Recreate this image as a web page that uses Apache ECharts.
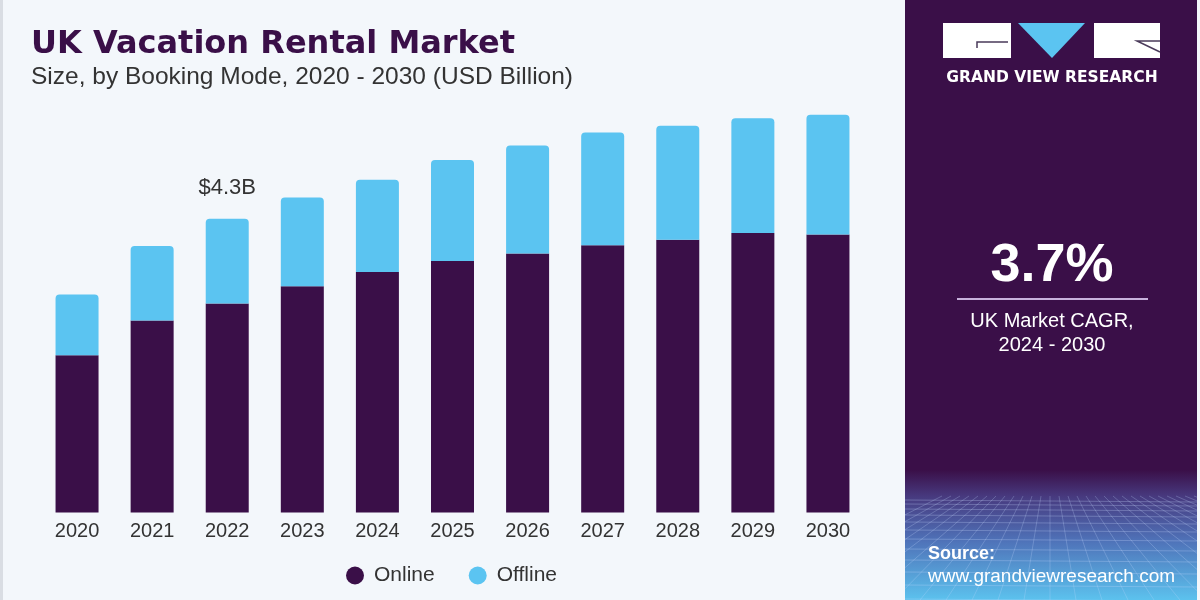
<!DOCTYPE html>
<html>
<head>
<meta charset="utf-8">
<script src="https://cdn.jsdelivr.net/npm/echarts@6/dist/echarts.min.js"></script>
<style>
  html, body { margin: 0; padding: 0; background: #f3f7fb; }
  #container { width: 1200px; height: 600px; }
</style>
</head>
<body>
<div id="container"></div>
<script>
var years = ['2020', '2021', '2022', '2023', '2024', '2025', '2026', '2027', '2028', '2029', '2030'];
var online = [2.30, 2.81, 3.06, 3.31, 3.52, 3.68, 3.79, 3.91, 3.99, 4.09, 4.07];
var offline = [0.89, 1.09, 1.24, 1.30, 1.35, 1.48, 1.58, 1.65, 1.67, 1.68, 1.75];
var labelYear = '2022';

var container = document.getElementById('container');
var chart = echarts.init(container);

var purple = '#3a0f48';
var blue = '#5bc4f1';

/*
 * offline bars carry the total label for the marked year
 */
var offlineData = offline.map(function (v, i) {
    var item = { value: v };
    if (years[i] === labelYear) {
        var total = (online[i] + v).toFixed(1);
        item.label = {
            show: true,
            position: 'top',
            distance: 20,
            formatter: '$' + total + 'B',
            fontSize: 22,
            color: '#333',
            fontFamily: 'Liberation Sans'
        };
    }
    return item;
});

// perspective grid in the panel footer
function panelGrid() {
    var g = [];
    var x0 = 905, x1 = 1197, yTop = 496, yBot = 600;
    var hy = [500, 504, 509, 515, 522, 530, 539, 549, 560, 572, 585, 599];
    hy.forEach(function (y) {
        g.push({ type: 'line', silent: true,
            shape: { x1: x0, y1: y, x2: x1, y2: y + 2 },
            style: { stroke: 'rgba(200,220,255,0.28)', lineWidth: 1 } });
    });
    for (var k = -12; k <= 20; k++) {
        var xt = 1050 + k * 9;
        var xb = 1050 + k * 26;
        var ya = yTop, yb = yBot, xa = xt, xe = xb;
        // clip to the panel edges
        if (xe < x0) { yb = yTop + (x0 - xt) / (xb - xt) * (yBot - yTop); xe = x0; }
        if (xe > x1) { yb = yTop + (x1 - xt) / (xb - xt) * (yBot - yTop); xe = x1; }
        if (xa < x0 || xa > x1) continue;
        g.push({ type: 'line', silent: true,
            shape: { x1: xa, y1: ya, x2: xe, y2: yb },
            style: { stroke: 'rgba(200,220,255,0.25)', lineWidth: 1 } });
    }
    return g;
}

var option = {
    backgroundColor: '#f3f7fb',
    animation: false,
    textStyle: { fontFamily: 'Liberation Sans' },
    grid: { left: 39.5, right: 334.5, top: 102.5, bottom: 87.5 },
    xAxis: {
        type: 'category',
        data: years,
        axisLine: { show: false },
        axisTick: { show: false },
        axisLabel: { fontSize: 20, color: '#333', margin: 9 }
    },
    yAxis: {
        type: 'value',
        min: 0,
        max: 6,
        show: false,
        splitLine: { show: false }
    },
    legend: {
        left: 346,
        top: 565,
        padding: 0,
        icon: 'circle',
        itemWidth: 18,
        itemHeight: 18,
        itemGap: 34,
        textStyle: { fontSize: 21, color: '#333', padding: [0, 0, 0, 5] },
        data: ['Online', 'Offline']
    },
    series: [
        {
            name: 'Online',
            type: 'bar',
            stack: 'total',
            barWidth: 43,
            itemStyle: { color: purple },
            data: online
        },
        {
            name: 'Offline',
            type: 'bar',
            stack: 'total',
            barWidth: 43,
            itemStyle: { color: blue, borderRadius: [4, 4, 0, 0] },
            data: offlineData
        }
    ],
    graphic: [
        { type: 'rect', silent: true, shape: { x: 0, y: 0, width: 3, height: 600 }, style: { fill: '#d9dde3' } },
        { type: 'text', x: 31, y: 45, style: { text: 'UK Vacation Rental Market', fill: purple, font: 'bold 32px DejaVu Sans', textVerticalAlign: 'middle' } },
        { type: 'text', x: 31, y: 77, style: { text: 'Size, by Booking Mode, 2020 - 2030 (USD Billion)', fill: '#333', font: '24.5px Liberation Sans', textVerticalAlign: 'middle' } },

        // right panel
        { type: 'rect', silent: true, shape: { x: 905, y: 0, width: 292, height: 600 }, style: { fill: purple } },
        { type: 'rect', silent: true, shape: { x: 905, y: 470, width: 292, height: 130 },
          style: { fill: new echarts.graphic.LinearGradient(0, 0, 0, 1, [
              { offset: 0, color: 'rgba(58,15,72,1)' },
              { offset: 0.2, color: '#47397e' },
              { offset: 0.55, color: '#4f73b9' },
              { offset: 1, color: '#5cc2ee' }
          ]) } },
        { type: 'group', children: panelGrid() },

        // logo
        { type: 'rect', silent: true, shape: { x: 943, y: 23, width: 68, height: 35 }, style: { fill: '#ffffff' } },
        { type: 'polyline', silent: true, shape: { points: [[1008, 42], [977, 42], [977, 48]] }, style: { stroke: '#4a3a5a', lineWidth: 1.5, fill: null } },
        { type: 'polygon', silent: true, shape: { points: [[1018, 23], [1085, 23], [1052, 58]] }, style: { fill: blue } },
        { type: 'rect', silent: true, shape: { x: 1094, y: 23, width: 66, height: 35 }, style: { fill: '#ffffff' } },
        { type: 'polyline', silent: true, shape: { points: [[1160, 41], [1137, 41], [1160, 52]] }, style: { stroke: '#4a3a5a', lineWidth: 1.5, fill: null } },
        { type: 'text', x: 1052, y: 78, style: { text: 'GRAND VIEW RESEARCH', fill: '#ffffff', font: 'bold 15.5px DejaVu Sans', textAlign: 'center', textVerticalAlign: 'middle' } },

        // CAGR block
        { type: 'text', x: 1052, y: 266, style: { text: '3.7%', fill: '#ffffff', font: 'bold 54px Liberation Sans', textAlign: 'center', textVerticalAlign: 'middle' } },
        { type: 'line', silent: true, shape: { x1: 957, y1: 299, x2: 1148, y2: 299 }, style: { stroke: '#c7b2dc', lineWidth: 2 } },
        { type: 'text', x: 1052, y: 321, style: { text: 'UK Market CAGR,', fill: '#ffffff', font: '20px Liberation Sans', textAlign: 'center', textVerticalAlign: 'middle' } },
        { type: 'text', x: 1052, y: 345, style: { text: '2024 - 2030', fill: '#ffffff', font: '20px Liberation Sans', textAlign: 'center', textVerticalAlign: 'middle' } },

        // source
        { type: 'text', x: 928, y: 554, style: { text: 'Source:', fill: '#ffffff', font: 'bold 18px Liberation Sans', textVerticalAlign: 'middle' } },
        { type: 'text', x: 928, y: 577, style: { text: 'www.grandviewresearch.com', fill: '#ffffff', font: '19px Liberation Sans', textVerticalAlign: 'middle' } }
    ]
};

chart.setOption(option, true);
</script>
</body>
</html>
